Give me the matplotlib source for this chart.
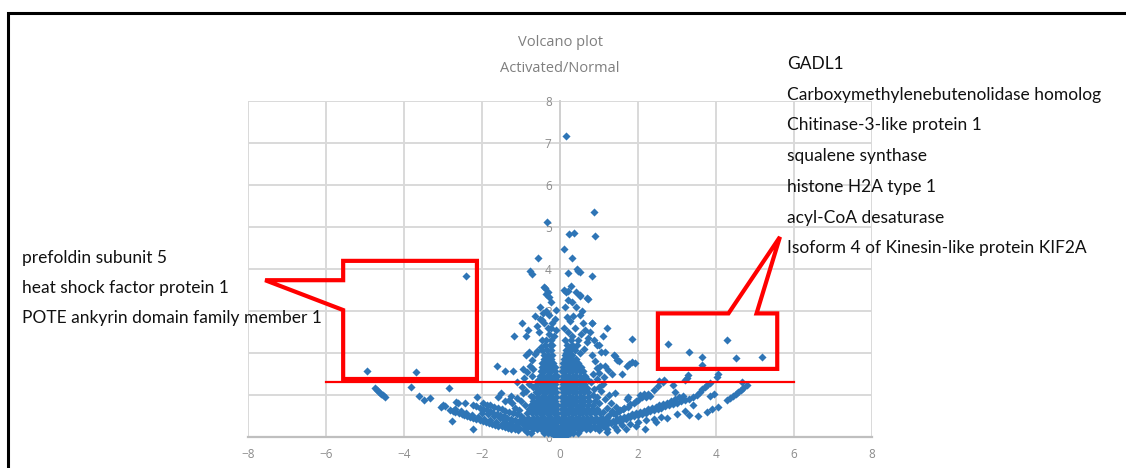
import matplotlib
matplotlib.use("Agg")
import matplotlib.pyplot as plt
from matplotlib.patches import Polygon, Rectangle

# ---------------- data ----------------
title_lines = ["Volcano plot", "Activated/Normal"]
x_ticks = [-8, -6, -4, -2, 0, 2, 4, 6, 8]
y_ticks = [0, 1, 2, 3, 4, 5, 6, 7, 8]
threshold = 1.3

left_labels = ["prefoldin subunit 5",
               "heat shock factor protein 1",
               "POTE ankyrin domain family member 1"]
right_labels = ["GADL1",
                "Carboxymethylenebutenolidase homolog",
                "Chitinase-3-like protein 1",
                "squalene synthase",
                "histone H2A type 1",
                "acyl-CoA desaturase",
                "Isoform 4 of Kinesin-like protein KIF2A"]

# significant / isolated points
sig_points = [(-4.96, 1.57), (-3.68, 1.54), (-2.41, 3.82),
              (2.77, 2.22), (3.31, 2.03), (3.63, 1.90), (3.63, 1.71),
              (4.29, 2.30), (4.51, 1.88), (5.17, 1.90)]

left_arm_points = [
    (-4.74, 1.16), (-4.69, 1.12), (-4.64, 1.08), (-4.58, 1.03), (-4.53, 0.99), (-4.49, 0.95),
    (-3.81, 1.19), (-3.62, 0.97), (-3.48, 0.89), (-3.34, 0.93),
    (-2.99, 0.76), (-2.85, 1.16), (-2.67, 0.84), (-2.61, 0.80), (-2.44, 0.81),
    (-3.05, 0.72), (-2.95, 0.74), (-2.78, 0.39), (-2.24, 0.19), (-2.13, 0.96),
    (-2.82, 0.64), (-2.75, 0.61), (-2.68, 0.59), (-2.60, 0.56), (-2.52, 0.54), (-2.45, 0.52),
    (-2.38, 0.50), (-2.30, 0.47), (-2.22, 0.45), (-2.15, 0.43), (-2.06, 0.40), (-1.98, 0.38),
    (-1.90, 0.36), (-1.82, 0.34), (-1.74, 0.32), (-1.66, 0.29), (-1.58, 0.27), (-1.50, 0.25),
    (-1.42, 0.24), (-1.34, 0.22), (-1.25, 0.20), (-1.16, 0.18), (-1.08, 0.17),
    (-2.23, 0.76), (-2.15, 0.73), (-2.06, 0.70), (-1.97, 0.67), (-1.88, 0.64), (-1.80, 0.61),
    (-1.71, 0.58), (-1.62, 0.55), (-1.53, 0.52), (-1.44, 0.49), (-1.35, 0.46), (-1.25, 0.43),
    (-1.15, 0.40), (-1.05, 0.37),
    (-1.97, 0.80), (-1.88, 0.77), (-1.79, 0.75), (-1.70, 0.72), (-1.60, 0.69), (-1.50, 0.66),
    (-1.40, 0.63), (-1.30, 0.60), (-1.20, 0.57), (-1.10, 0.54), (-1.00, 0.51),
    (-1.62, 1.69), (-1.41, 1.57), (-1.20, 1.57), (-1.51, 1.04), (-1.58, 0.96),
    (-1.09, 1.31), (-0.98, 1.19), (-1.10, 0.93), (-1.00, 0.85), (-0.90, 0.75), (-0.95, 1.05),
    (-2.70, 0.66), (-2.55, 0.61), (-2.40, 0.56), (-2.25, 0.52), (-2.10, 0.48), (-1.95, 0.44),
    (-1.80, 0.40), (-1.65, 0.36), (-1.50, 0.32), (-1.35, 0.28), (-1.20, 0.25), (-1.05, 0.22),
    (-0.92, 0.19), (-0.85, 0.12), (-0.75, 0.10), (-0.95, 0.30), (-0.82, 0.26), (-1.85, 0.55),
    (-1.70, 0.50), (-1.55, 0.45), (-1.40, 0.40), (-1.25, 0.36), (-1.10, 0.32), (-2.00, 0.58),
    (-1.22, 0.80), (-1.30, 0.88), (-1.15, 0.70), (-1.05, 0.65), (-1.40, 0.85), (-1.25, 0.98),
    (-0.92, 1.40), (-0.85, 1.55), (-0.78, 1.70), (-0.72, 1.45), (-0.68, 1.62), (-0.95, 1.62),
    (-0.80, 1.25), (-0.88, 1.10), (-0.75, 0.98), (-0.70, 1.20),
]

right_arm_points = [
    (0.90, 0.22), (1.00, 0.25), (1.10, 0.27), (1.20, 0.30), (1.30, 0.33), (1.40, 0.36),
    (1.50, 0.38), (1.60, 0.41), (1.70, 0.44), (1.80, 0.47), (1.90, 0.50), (2.00, 0.52),
    (2.10, 0.55), (2.20, 0.58), (2.30, 0.61), (2.40, 0.64), (2.50, 0.67), (2.60, 0.70),
    (2.70, 0.73), (2.80, 0.76), (2.90, 0.79), (3.00, 0.82), (3.10, 0.85), (3.20, 0.88),
    (3.30, 0.91), (3.40, 0.95), (3.50, 0.99),
    (1.00, 0.16), (1.20, 0.20), (1.40, 0.24), (1.60, 0.28), (1.80, 0.32), (2.00, 0.36),
    (2.20, 0.40), (2.40, 0.44), (2.60, 0.48), (2.18, 0.18),
    (1.20, 0.48), (1.40, 0.55), (1.54, 0.64), (1.65, 0.70), (1.80, 0.78), (1.95, 0.86),
    (2.10, 0.94), (2.25, 1.02), (2.40, 1.12), (2.52, 1.22), (2.64, 1.30),
    (2.90, 1.24), (2.95, 1.08),
    (3.55, 0.51), (3.78, 0.60), (3.89, 0.66), (4.06, 0.72), (4.27, 0.88), (4.35, 0.93),
    (4.43, 0.98), (4.50, 1.03), (4.57, 1.07), (4.63, 1.11), (4.70, 1.16), (4.79, 1.24),
    (4.67, 1.30),
    (3.59, 1.08), (3.65, 1.13), (3.72, 1.18), (3.78, 1.23), (3.85, 1.28), (4.02, 1.43), (4.06, 1.50),
    (2.54, 1.33), (2.67, 1.35), (3.21, 1.35), (3.25, 1.41), (3.29, 1.47),
    (1.84, 2.32), (1.71, 1.69), (1.77, 1.74), (1.85, 1.78), (1.92, 1.76), (1.50, 1.80),
    (1.45, 1.83), (1.41, 1.92), (1.38, 1.96), (1.21, 2.60), (1.09, 2.40), (0.99, 2.20),
    (1.04, 2.03), (1.15, 2.03), (1.58, 1.51), (1.23, 1.60), (1.15, 1.68), (2.05, 1.00),
    (2.15, 1.03), (2.30, 0.97), (1.71, 0.90), (1.75, 0.96), (1.43, 0.72), (1.33, 0.62),
    (1.33, 1.50), (0.94, 1.65), (1.03, 1.70), (0.80, 1.30), (0.95, 1.38), (1.10, 1.25),
    (1.05, 0.30), (1.15, 0.33), (1.25, 0.36), (1.35, 0.39), (1.45, 0.42), (1.55, 0.45),
    (1.65, 0.48), (1.75, 0.51), (1.85, 0.54), (1.95, 0.57), (2.05, 0.60), (2.15, 0.63),
    (2.25, 0.66), (2.35, 0.69), (2.45, 0.72), (2.55, 0.75), (2.65, 0.78), (2.75, 0.82),
    (2.85, 0.86), (2.95, 0.90), (3.05, 0.94), (3.15, 0.98), (0.95, 0.40), (1.10, 0.44),
    (1.25, 0.52), (1.35, 0.58), (1.50, 0.62), (1.62, 0.66), (1.75, 0.72), (1.90, 0.80),
    (2.00, 0.88), (2.20, 0.95), (1.10, 0.60), (1.20, 0.70), (1.30, 0.80), (1.15, 0.90),
    (1.25, 1.00), (1.40, 1.05), (1.05, 1.10), (0.95, 0.95), (1.00, 0.80), (0.90, 0.62),
    (1.20, 0.12), (1.45, 0.16), (1.70, 0.20), (1.95, 0.25), (2.45, 0.35), (2.75, 0.45),
    (3.00, 0.55), (3.20, 0.62), (3.40, 0.75), (3.30, 0.52), (3.85, 0.97), (3.95, 1.02),
    (0.85, 1.50), (0.90, 1.80), (0.82, 1.95), (1.00, 1.52), (1.12, 1.42), (0.88, 1.15),
    (1.00, 1.20), (0.85, 1.00),
]

upper_center_points = [
    (-0.57, 4.26), (-0.77, 3.95), (-0.73, 3.87), (-0.33, 5.11), (-0.38, 3.55), (-0.27, 3.33),
    (-0.64, 2.87), (-0.51, 2.81), (-0.43, 2.96), (-0.10, 3.03), (-0.41, 3.56), (-0.35, 3.40),
    (-0.30, 3.45), (-0.24, 3.20), (-0.20, 2.72), (-0.24, 2.60), (-0.29, 2.45), (-0.47, 2.79),
    (-0.37, 3.00), (-1.17, 2.40), (-0.97, 2.72), (-0.87, 2.41), (-0.81, 2.54), (-0.88, 1.95),
    (-0.80, 2.03), (-0.72, 1.83), (-0.64, 1.98), (-0.55, 2.50), (-0.15, 2.40), (-0.10, 2.55),
    (0.15, 7.15), (0.86, 5.35), (0.90, 4.77), (0.24, 4.84), (0.36, 4.85), (0.11, 4.47),
    (0.32, 4.26), (0.43, 4.00), (0.47, 3.95), (0.51, 3.93), (0.21, 3.90), (0.83, 3.82),
    (0.11, 3.50), (0.15, 3.45), (0.27, 3.60), (0.21, 3.48), (0.71, 3.29), (0.52, 3.35),
    (0.51, 3.37), (0.68, 3.30), (0.21, 3.25), (0.30, 3.21), (0.42, 3.10), (0.17, 2.86),
    (0.26, 2.77), (0.34, 2.88), (0.56, 3.00), (0.51, 2.90), (0.81, 2.70), (0.77, 2.50),
    (0.83, 2.72), (0.94, 2.20), (0.88, 2.30), (0.68, 2.25), (0.72, 2.35), (0.15, 2.00),
    (0.25, 2.10), (0.35, 2.15), (0.45, 2.30), (0.10, 2.60), (0.20, 2.50), (0.38, 2.60),
    (0.30, 2.40), (0.55, 2.45), (0.62, 2.10), (0.50, 2.00), (0.12, 3.10), (0.40, 3.45),
    (-0.45, 2.30), (-0.50, 2.15), (-0.58, 2.05), (-0.20, 2.20), (-0.32, 2.60), (-0.40, 2.70),
    (-0.52, 3.10), (-0.28, 2.90), (-0.60, 2.65), (-0.12, 2.80), (0.60, 2.70), (0.65, 2.55),
]

# dense core: rows of -log10(p) with the fold changes seen at that height
core_rows = {
    0.04: [-0.15, -0.08, 0.0, 0.06, 0.12, 0.18],
    0.10: [-0.4, -0.3, -0.22, -0.14, -0.06, 0.02, 0.1, 0.18, 0.26, 0.34, 0.45],
    0.18: [-0.7, -0.6, -0.5, -0.42, -0.33, -0.25, -0.16, -0.08, 0.03, 0.11, 0.19, 0.28, 0.36, 0.45, 0.55, 0.66, 0.78],
    0.27: [-0.9, -0.8, -0.68, -0.58, -0.5, -0.41, -0.32, -0.24, -0.15, -0.07, 0.04, 0.12, 0.21, 0.3, 0.38, 0.47, 0.56, 0.66, 0.77, 0.88, 1.0],
    0.36: [-1.0, -0.88, -0.75, -0.64, -0.55, -0.46, -0.37, -0.28, -0.19, -0.1, 0.03, 0.11, 0.2, 0.29, 0.37, 0.46, 0.55, 0.64, 0.74, 0.86, 0.98, 1.1],
    0.46: [-0.95, -0.82, -0.7, -0.6, -0.5, -0.41, -0.32, -0.23, -0.14, -0.06, 0.05, 0.13, 0.22, 0.31, 0.4, 0.49, 0.58, 0.68, 0.8, 0.92, 1.05, 1.2],
    0.56: [-0.85, -0.72, -0.62, -0.52, -0.43, -0.34, -0.25, -0.16, -0.07, 0.04, 0.12, 0.21, 0.3, 0.39, 0.48, 0.57, 0.67, 0.78, 0.9, 1.02],
    0.66: [-0.8, -0.66, -0.56, -0.47, -0.38, -0.29, -0.2, -0.11, 0.05, 0.13, 0.22, 0.31, 0.4, 0.49, 0.59, 0.7, 0.82, 0.95],
    0.76: [-0.75, -0.62, -0.52, -0.43, -0.34, -0.25, -0.16, -0.08, 0.06, 0.14, 0.23, 0.32, 0.41, 0.5, 0.6, 0.72, 0.85],
    0.86: [-0.7, -0.58, -0.49, -0.4, -0.31, -0.22, -0.13, 0.07, 0.15, 0.24, 0.33, 0.42, 0.51, 0.62, 0.75, 0.9],
    0.96: [-0.68, -0.56, -0.47, -0.38, -0.29, -0.2, -0.11, 0.06, 0.14, 0.23, 0.32, 0.41, 0.5, 0.6, 0.72],
    1.06: [-0.62, -0.53, -0.44, -0.35, -0.26, -0.17, -0.09, 0.07, 0.15, 0.24, 0.33, 0.42, 0.51, 0.61, 0.73],
    1.16: [-0.6, -0.5, -0.41, -0.32, -0.23, -0.14, 0.06, 0.14, 0.23, 0.32, 0.41, 0.5, 0.6, 0.7],
    1.26: [-0.58, -0.48, -0.39, -0.3, -0.21, -0.12, 0.07, 0.15, 0.24, 0.33, 0.42, 0.51, 0.62],
    1.36: [-0.56, -0.46, -0.37, -0.28, -0.19, -0.1, 0.06, 0.14, 0.23, 0.32, 0.41, 0.5, 0.6, 0.72],
    1.46: [-0.52, -0.43, -0.34, -0.25, -0.16, -0.08, 0.07, 0.15, 0.24, 0.33, 0.42, 0.52, 0.63],
    1.56: [-0.5, -0.41, -0.32, -0.23, -0.14, 0.06, 0.14, 0.23, 0.32, 0.41, 0.51, 0.6],
    1.66: [-0.47, -0.38, -0.29, -0.2, -0.12, 0.07, 0.16, 0.25, 0.34, 0.44, 0.55],
    1.76: [-0.45, -0.35, -0.26, -0.17, 0.08, 0.17, 0.26, 0.35, 0.45],
    1.86: [-0.42, -0.32, -0.22, 0.1, 0.2, 0.3, 0.4],
    1.96: [-0.4, -0.3, -0.2, 0.12, 0.22, 0.32],
    2.06: [-0.45, -0.33, -0.22, 0.15, 0.25, 0.38],
    2.18: [-0.38, -0.26, 0.18, 0.3, 0.44],
    2.30: [-0.35, -0.22, 0.14, 0.27],
}

# callout outlines (data coordinates)
left_callout_x = [-7.56, -5.56, -5.56, -2.13, -2.13, -5.56, -5.56]
left_callout_y = [3.73, 3.73, 4.19, 4.19, 1.38, 1.38, 3.02]
right_callout_x = [2.51, 4.32, 5.64, 5.04, 5.57, 5.57, 2.51]
right_callout_y = [2.94, 2.94, 4.76, 2.94, 2.94, 1.62, 1.62]

# ---------------- assemble ----------------
xs, ys = [], []
for grp in (sig_points, left_arm_points, right_arm_points, upper_center_points):
    for a, b in grp:
        xs.append(a)
        ys.append(b)
for yv, row in core_rows.items():
    for a in row:
        xs.append(a)
        ys.append(yv)

W, H = 1126, 468
fig = plt.figure(figsize=(W / 100, H / 100), dpi=100)
fig.patch.set_facecolor("white")

ax = fig.add_axes([248 / W, (H - 437) / H, 624 / W, 336.3 / H])
ax.set_xlim(-8, 8)
ax.set_ylim(0, 8)
ax.set_xticks(x_ticks)
ax.set_yticks(y_ticks)
grid_c = "#d9d9d9"
for xv in x_ticks:
    ax.axvline(xv, color=grid_c, lw=1.4, zorder=0)
for yv in y_ticks:
    ax.axhline(yv, color=grid_c, lw=1.4, zorder=0)
for s in ("top", "right"):
    ax.spines[s].set_visible(False)
ax.spines["left"].set_position(("data", 0))
ax.spines["left"].set_color("#d0d0d0")
ax.spines["left"].set_linewidth(1.4)
ax.spines["bottom"].set_color("#bfbfbf")
ax.spines["bottom"].set_linewidth(1.6)
tick_font = ["Liberation Sans Narrow", "Open Sans", "DejaVu Sans"]
ax.tick_params(axis="both", length=0, labelsize=8.5, labelcolor="#8c8c8c")
ax.tick_params(axis="x", pad=8)
ax.tick_params(axis="y", pad=6)
for lab in ax.get_xticklabels() + ax.get_yticklabels():
    lab.set_family(tick_font)

ax.scatter(xs, ys, marker="D", s=17, color="#2e75b6", linewidths=0, zorder=3)

ax.plot([-6, 6], [threshold, threshold], color="#ff0000", lw=1.6, zorder=4)
ax.add_patch(Polygon(list(zip(left_callout_x, left_callout_y)), closed=True,
                     fill=False, edgecolor="#ff0000", lw=3.0, zorder=5,
                     joinstyle="miter", clip_on=False))
ax.add_patch(Polygon(list(zip(right_callout_x, right_callout_y)), closed=True,
                     fill=False, edgecolor="#ff0000", lw=3.0, zorder=5,
                     joinstyle="miter", clip_on=False))

# title
title_font = ["Liberation Sans Narrow", "Open Sans", "DejaVu Sans"]
fig.text(560 / W, 1 - 42 / H, title_lines[0], ha="center", va="center",
         fontsize=10.5, color="#7f7f7f", family=title_font)
fig.text(560 / W, 1 - 68 / H, title_lines[1], ha="center", va="center",
         fontsize=10.5, color="#7f7f7f", family=title_font)

# annotation texts
ann_font = ["Lato", "Open Sans", "DejaVu Sans"]
for i, t in enumerate(right_labels):
    fig.text(787 / W, 1 - (64 + 30.7 * i) / H, t, ha="left", va="center",
             fontsize=12.5, color="#111111", family=ann_font)
for i, t in enumerate(left_labels):
    fig.text(22 / W, 1 - (258 + 30 * i) / H, t, ha="left", va="center",
             fontsize=12.5, color="#111111", family=ann_font)

# black frame
fig.add_artist(Rectangle((8 / W, -0.2), 1.2, 1.2 - 13 / H, transform=fig.transFigure,
                         fill=False, edgecolor="black", lw=2.2))

fig.savefig("out.png", dpi=100, facecolor="white")
